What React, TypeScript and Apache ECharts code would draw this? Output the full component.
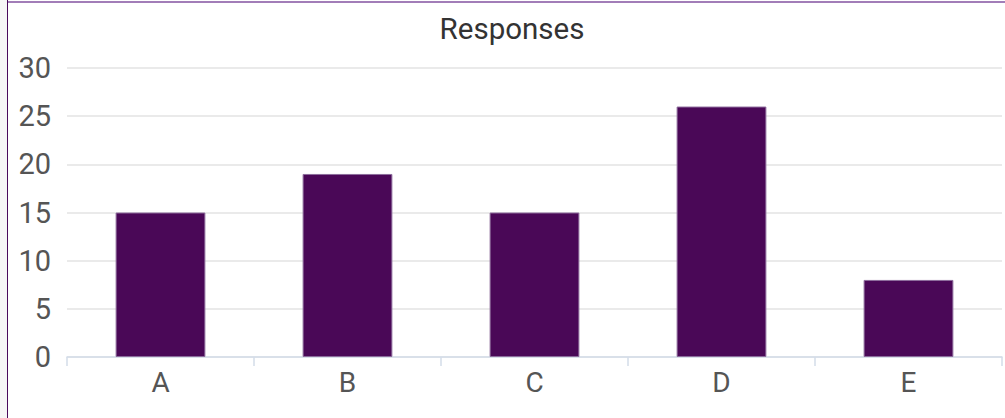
import React, { useEffect, useRef } from "react";
import * as echarts from "echarts";

const categories = ["A", "B", "C", "D", "E"];
const responses = [15, 19, 15, 26, 8];
const yTicks = { min: 0, max: 30, interval: 5 };
const titleText = "Responses";

export default function App() {
  const ref = useRef<HTMLDivElement>(null);
  useEffect(() => {
    document.body.style.margin = "0";
    const chart = echarts.init(ref.current!, null, { renderer: "svg" });
    chart.setOption({
      animation: false,
      title: {
        text: titleText,
        left: 507,
        top: 9,
        textAlign: "center",
        textStyle: { fontFamily: "Roboto", fontSize: 29.5, fontWeight: "normal", color: "#333" },
      },
      grid: { left: 67, right: 3, top: 68, bottom: 61, containLabel: false },
      xAxis: {
        type: "category",
        data: categories,
        axisLine: { lineStyle: { color: "#d3dde9", width: 1.5 } },
        axisTick: { show: true, length: 9, lineStyle: { color: "#d3dde9", width: 1.5 } },
        axisLabel: { fontFamily: "Roboto", fontSize: 28, color: "#555", margin: 11 },
      },
      yAxis: {
        type: "value",
        min: yTicks.min,
        max: yTicks.max,
        interval: yTicks.interval,
        axisLine: { show: false },
        axisTick: { show: false },
        axisLabel: { fontFamily: "Roboto", fontSize: 29, color: "#555", margin: 16, padding: [0, 0, 4, 0] },
        splitLine: { lineStyle: { color: "#e3e3e3", width: 1.5 } },
      },
      series: [
        {
          type: "bar",
          data: responses,
          barWidth: "48%",
          itemStyle: { color: "#4a0857", borderColor: "#8d6c9c", borderWidth: 1 },
        },
      ],
    });
    return () => chart.dispose();
  }, []);
  return (
    <div style={{ position: "absolute", left: 0, top: 0, width: 1005, height: 418, background: "#fff" }}>
      <div style={{ position: "absolute", left: 0, top: 0, width: 7, height: 418, background: "#f6f6f6" }} />
      <div style={{ position: "absolute", left: 7, top: 0, width: 1, height: 418, background: "#4a0a5c" }} />
      <div style={{ position: "absolute", left: 8, top: 1, width: 997, height: 2, background: "#a27db8" }} />
      <div ref={ref} style={{ position: "absolute", left: 0, top: 0, width: 1005, height: 418 }} />
    </div>
  );
}
